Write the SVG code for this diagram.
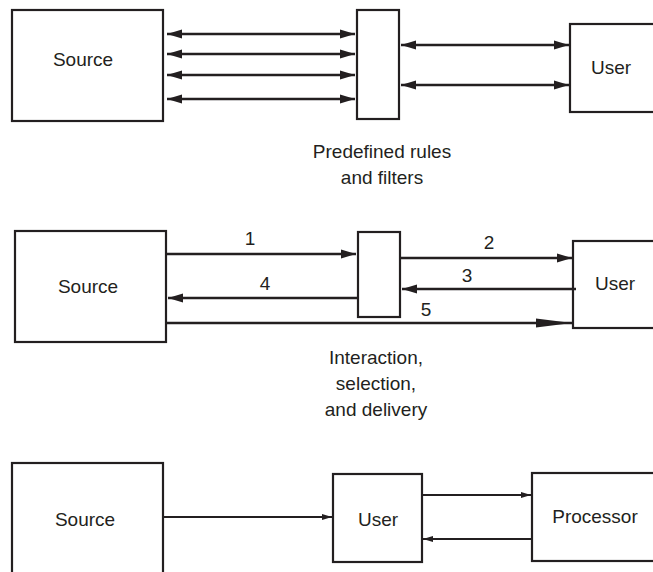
<svg xmlns="http://www.w3.org/2000/svg" width="653" height="572" viewBox="0 0 653 572">
<style>
.box{fill:#fff;stroke:#231f20;stroke-width:2.2}
.ln{stroke:#231f20;stroke-width:2.6;fill:none}
.ln3{stroke:#231f20;stroke-width:2.2;fill:none}
text{font-family:"Liberation Sans",Arial,sans-serif;font-size:19px;fill:#231f20;text-anchor:middle}
</style>
<defs>
<marker id="ah" markerUnits="userSpaceOnUse" markerWidth="15" markerHeight="10" viewBox="0 0 15 10" refX="15" refY="5" orient="auto-start-reverse"><path d="M0,0.5 L15,5 L0,9.5 z" fill="#231f20"/></marker>
<marker id="ahl" markerUnits="userSpaceOnUse" markerWidth="36" markerHeight="10" viewBox="0 0 36 10" refX="36" refY="5" orient="auto"><path d="M0,0.5 L36,5 L0,9.5 z" fill="#231f20"/></marker>
<marker id="ahs" markerUnits="userSpaceOnUse" markerWidth="10" markerHeight="7" viewBox="0 0 10 7" refX="10" refY="3.5" orient="auto"><path d="M0,0.5 L10,3.5 L0,6.5 z" fill="#231f20"/></marker>
</defs>

<g id="p1-source"><rect class="box" x="12" y="10" width="151" height="111"/><text x="83" y="66">Source</text></g>
<g id="p1-filter"><rect class="box" x="357" y="10" width="42" height="109"/></g>
<g id="p1-user"><rect class="box" x="570" y="24" width="100" height="88"/><text x="611" y="74">User</text></g>
<g id="p1-caption"><text x="382" y="158">Predefined rules</text><text x="382" y="184">and filters</text></g>

<g id="p2-source"><rect class="box" x="15" y="231" width="151" height="111"/><text x="88" y="293">Source</text></g>
<g id="p2-mid"><rect class="box" x="358" y="232" width="42" height="85"/></g>
<g id="p2-user"><rect class="box" x="573" y="241" width="100" height="87"/><text x="615" y="290">User</text></g>
<g id="p2-caption"><text x="376" y="364">Interaction,</text><text x="376" y="390">selection,</text><text x="376" y="416">and delivery</text></g>

<g id="p3-source"><rect class="box" x="12" y="463" width="151" height="130"/><text x="85" y="526">Source</text></g>
<g id="p3-user"><rect class="box" x="333" y="474" width="89" height="88"/><text x="378" y="526">User</text></g>
<g id="p3-processor"><rect class="box" x="532" y="473" width="130" height="88"/><text x="595" y="523">Processor</text></g>

<g id="connectors">
<line class="ln" x1="167" y1="34" x2="355" y2="34" marker-start="url(#ah)" marker-end="url(#ah)"/>
<line class="ln" x1="167" y1="54" x2="355" y2="54" marker-start="url(#ah)" marker-end="url(#ah)"/>
<line class="ln" x1="167" y1="75" x2="355" y2="75" marker-start="url(#ah)" marker-end="url(#ah)"/>
<line class="ln" x1="167" y1="99" x2="355" y2="99" marker-start="url(#ah)" marker-end="url(#ah)"/>
<line class="ln" x1="401" y1="45" x2="569" y2="45" marker-start="url(#ah)" marker-end="url(#ah)"/>
<line class="ln" x1="401" y1="85" x2="569" y2="85" marker-start="url(#ah)" marker-end="url(#ah)"/>

<line class="ln" x1="166" y1="254" x2="356" y2="254" marker-end="url(#ah)"/>
<line class="ln" x1="400" y1="258" x2="572" y2="258" marker-end="url(#ah)"/>
<line class="ln" x1="576" y1="289" x2="402" y2="289" marker-end="url(#ah)"/>
<line class="ln" x1="357" y1="298" x2="168" y2="298" marker-end="url(#ah)"/>
<line class="ln" x1="166" y1="323" x2="572" y2="323" marker-end="url(#ahl)"/>
<text x="250" y="245">1</text>
<text x="489" y="249">2</text>
<text x="467" y="282">3</text>
<text x="265" y="290">4</text>
<text x="426" y="316">5</text>

<line class="ln3" x1="163" y1="517" x2="332" y2="517" marker-end="url(#ahs)"/>
<line class="ln3" x1="422" y1="495" x2="531" y2="495" marker-end="url(#ahs)"/>
<line class="ln3" x1="532" y1="539" x2="423" y2="539" marker-end="url(#ahs)"/>
</g>
</svg>
